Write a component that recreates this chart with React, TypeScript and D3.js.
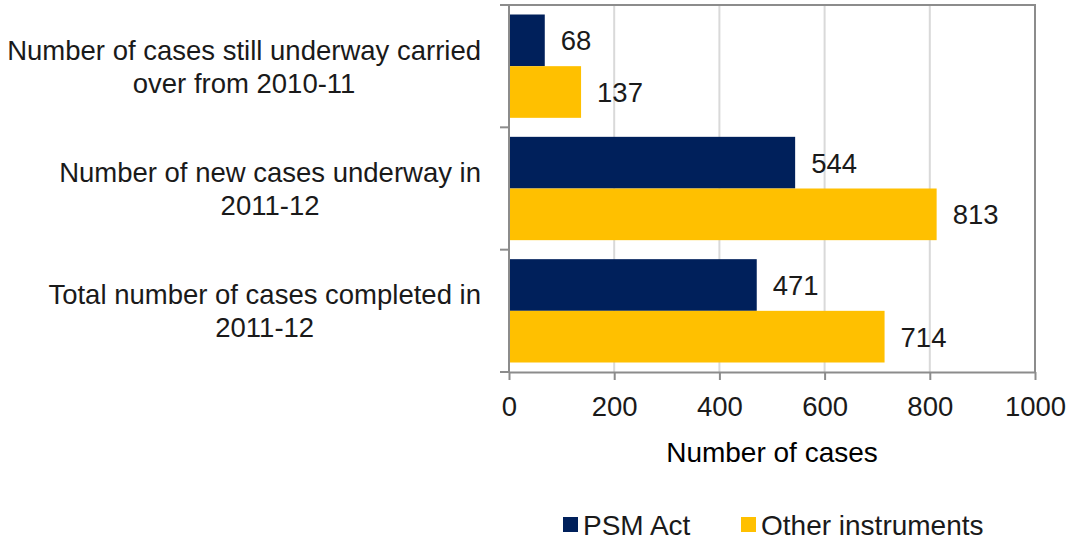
import React, { useEffect, useRef } from 'react';
import * as d3 from 'd3';

// Chart data
const categories = [
  ['Number of cases still underway carried', 'over from 2010-11'],
  ['Number of new cases underway in', '2011-12'],
  ['Total number of cases completed in', '2011-12'],
];
const seriesNames = ['PSM Act', 'Other instruments'];
const psmAct = [68, 544, 471];
const otherInstruments = [137, 813, 714];
const xTicks = [0, 200, 400, 600, 800, 1000];
const colors = ['#00205b', '#ffc000'];

export default function App() {
  const svgRef = useRef<SVGSVGElement>(null);

  useEffect(() => {
    if (!svgRef.current) return;
    const width = 1069;
    const height = 541;
    const plot = { left: 509, right: 1035, top: 5, bottom: 372 };
    const font = '"Liberation Sans", Arial, sans-serif';
    const textColor = '#1a1a1a';
    const fs = 27.5;

    const svg = d3.select(svgRef.current);
    svg.selectAll('*').remove();
    svg.attr('width', width).attr('height', height).attr('font-family', font);

    const x = d3.scaleLinear().domain([0, 1000]).range([plot.left, plot.right]);
    const y0 = d3.scaleBand<number>()
      .domain(d3.range(categories.length))
      .range([plot.top, plot.bottom]);
    const pad = 9.5;
    const y1 = d3.scaleBand<number>()
      .domain([0, 1])
      .range([pad, y0.bandwidth() - pad]);

    // Gridlines
    svg.append('g')
      .selectAll('line')
      .data(xTicks.slice(1, -1))
      .join('line')
      .attr('x1', d => x(d)).attr('x2', d => x(d))
      .attr('y1', plot.top).attr('y2', plot.bottom)
      .attr('stroke', '#d9d9d9').attr('stroke-width', 2);

    // Frame (top and right)
    svg.append('path')
      .attr('d', `M${plot.left},${plot.top}H${plot.right}V${plot.bottom}`)
      .attr('fill', 'none').attr('stroke', '#8c8c8c').attr('stroke-width', 2);

    // Bars
    const series = [psmAct, otherInstruments];
    series.forEach((vals, si) => {
      const g = svg.append('g');
      g.selectAll('rect')
        .data(vals)
        .join('rect')
        .attr('x', x(0))
        .attr('y', (_, i) => (y0(i) as number) + (y1(si) as number))
        .attr('width', d => x(d) - x(0))
        .attr('height', y1.bandwidth())
        .attr('fill', colors[si]);
      g.selectAll('text')
        .data(vals)
        .join('text')
        .attr('x', d => x(d) + 16)
        .attr('y', (_, i) => (y0(i) as number) + (y1(si) as number) + y1.bandwidth() / 2)
        .attr('dy', '0.36em')
        .attr('font-size', fs)
        .attr('fill', textColor)
        .text(d => d);
    });

    // X axis
    const xAxis = svg.append('g')
      .attr('transform', `translate(0,${plot.bottom})`)
      .call(d3.axisBottom(x).tickValues(xTicks).tickFormat(d3.format('d'))
        .tickSize(8).tickPadding(16).tickSizeOuter(0));
    xAxis.select('.domain').attr('stroke', '#8c8c8c').attr('stroke-width', 2);
    xAxis.selectAll('.tick line').attr('stroke', '#8c8c8c').attr('stroke-width', 2);
    xAxis.selectAll('.tick text')
      .attr('font-size', fs).attr('font-family', font).attr('fill', textColor);

    // Y axis line with category boundary ticks
    svg.append('line')
      .attr('x1', plot.left).attr('x2', plot.left)
      .attr('y1', plot.top).attr('y2', plot.bottom)
      .attr('stroke', '#8c8c8c').attr('stroke-width', 2);
    const bounds = d3.range(categories.length + 1).map(i =>
      i < categories.length ? (y0(i) as number) : plot.bottom);
    svg.append('g')
      .selectAll('line')
      .data(bounds)
      .join('line')
      .attr('x1', plot.left - 9).attr('x2', plot.left)
      .attr('y1', d => d).attr('y2', d => d)
      .attr('stroke', '#8c8c8c').attr('stroke-width', 2);

    // Category labels: block right aligned, lines centred
    const labelRight = 481;
    categories.forEach((lines, i) => {
      const cy = (y0(i) as number) + y0.bandwidth() / 2;
      const g = svg.append('g');
      const texts = g.selectAll('text')
        .data(lines)
        .join('text')
        .attr('y', (_, li) => cy + (li - (lines.length - 1) / 2) * 33)
        .attr('dy', '0.36em')
        .attr('font-size', fs)
        .attr('fill', textColor)
        .attr('text-anchor', 'middle')
        .text(d => d);
      let maxW = 0;
      texts.each(function () {
        maxW = Math.max(maxW, (this as SVGTextElement).getComputedTextLength());
      });
      texts.attr('x', labelRight - maxW / 2);
    });

    // Axis title
    svg.append('text')
      .attr('x', (plot.left + plot.right) / 2)
      .attr('y', 452)
      .attr('dy', '0.36em')
      .attr('text-anchor', 'middle')
      .attr('font-size', 28)
      .attr('fill', '#000')
      .text('Number of cases');

    // Legend
    const legendX = [563, 741];
    seriesNames.forEach((name, i) => {
      svg.append('rect')
        .attr('x', legendX[i]).attr('y', 517)
        .attr('width', 15).attr('height', 15)
        .attr('fill', colors[i]);
      svg.append('text')
        .attr('x', legendX[i] + 20).attr('y', 524.5)
        .attr('dy', '0.36em')
        .attr('font-size', 28)
        .attr('fill', textColor)
        .text(name);
    });
  }, []);

  return (
    <div style={{ position: 'absolute', left: 0, top: 0 }}>
      <svg ref={svgRef} style={{ display: 'block' }} />
    </div>
  );
}
